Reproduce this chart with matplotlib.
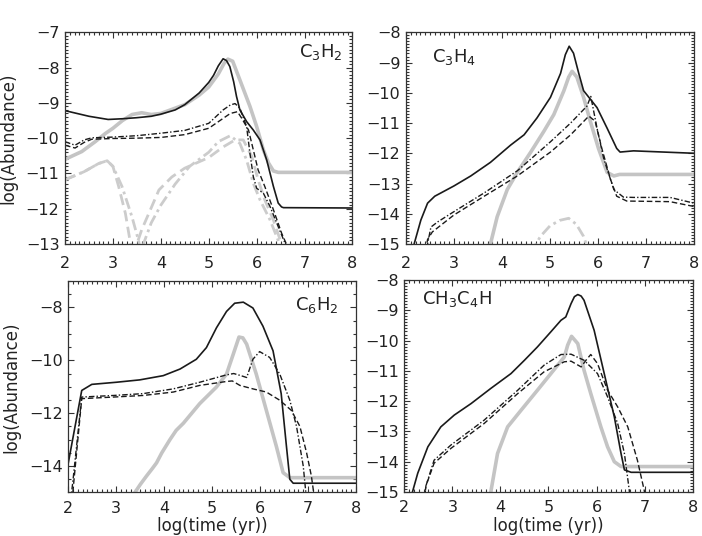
import matplotlib
matplotlib.use('Agg')
import matplotlib.pyplot as plt
from matplotlib.ticker import MultipleLocator

plt.rcParams['font.family'] = 'DejaVu Sans'
plt.rcParams['font.size'] = 11

BLACK = '#1a1a1a'
GRAY = '#c4c4c4'
LGRAY = '#cccccc'
DASH = (0, (4, 2))
DADOT = (0, (4, 1.5, 1, 1.5))

# ---- C3H2 (top left) ----
c3h2_solid_x = [2.0, 2.5, 2.9, 3.2, 3.5, 3.8, 4.0, 4.3, 4.5, 4.8, 5.0, 5.1, 5.2, 5.3, 5.37, 5.44, 5.52,
                5.58, 5.65, 5.79, 5.93, 6.07, 6.21, 6.35, 6.45, 6.52, 6.56, 8.0]
c3h2_solid_y = [-9.22, -9.38, -9.47, -9.45, -9.42, -9.38, -9.32, -9.2, -9.05, -8.72, -8.42, -8.22,
                -7.95, -7.75, -7.8, -7.97, -8.4, -8.82, -9.2, -9.53, -9.77, -10.05, -10.62, -11.37,
                -11.84, -11.95, -11.97, -11.98]
c3h2_gray_x = [2.0, 2.35, 2.63, 2.84, 3.0, 3.2, 3.4, 3.6, 3.8, 4.0, 4.2, 4.5, 4.8, 5.0, 5.2, 5.32,
               5.4, 5.5, 5.65, 5.86, 6.0, 6.14, 6.25, 6.35, 6.45, 8.0]
c3h2_gray_y = [-10.6, -10.38, -10.1, -9.87, -9.72, -9.5, -9.33, -9.28, -9.33, -9.3, -9.2, -9.05, -8.78,
               -8.55, -8.18, -7.88, -7.76, -7.82, -8.35, -9.1, -9.67, -10.33, -10.71, -10.93, -10.97,
               -10.97]
c3h2_dash_x = [2.0, 2.21, 2.4, 2.56, 3.0, 3.5, 4.0, 4.5, 5.0, 5.3, 5.45, 5.6, 5.69, 5.83, 5.93, 6.03,
               6.17, 6.35, 6.52, 6.62, 6.7]
c3h2_dash_y = [-10.2, -10.28, -10.12, -10.03, -10.01, -10.0, -9.98, -9.9, -9.72, -9.44, -9.3, -9.25,
               -9.44, -9.77, -10.33, -10.9, -11.37, -12.03, -12.69, -13.0, -13.3]
c3h2_dd_x = [2.0, 2.21, 2.4, 2.56, 3.0, 3.5, 4.0, 4.5, 5.0, 5.3, 5.45, 5.55, 5.65, 5.79, 5.86, 5.93,
             6.0, 6.14, 6.28, 6.42, 6.59, 6.65]
c3h2_dd_y = [-10.1, -10.2, -10.05, -9.99, -9.97, -9.93, -9.86, -9.78, -9.58, -9.2, -9.06, -9.02,
             -9.15, -9.67, -10.43, -11.09, -11.42, -11.56, -11.94, -12.41, -12.97, -13.2]
c3h2_gdash_x = [2.0, 2.4, 2.7, 2.88, 3.0, 3.12, 3.26, 3.36, 3.44, 3.5, 3.6, 3.75, 3.96, 4.23, 4.5,
                5.0, 5.3, 5.55, 5.72, 5.9, 6.03, 6.17, 6.35, 6.52, 6.6]
c3h2_gdash_y = [-11.18, -10.95, -10.72, -10.64, -10.8, -11.37, -12.13, -12.93, -13.4, -13.0, -12.6,
                -12.13, -11.47, -11.1, -10.85, -10.55, -10.25, -10.05, -10.05, -10.52, -11.18, -11.75,
                -12.32, -13.0, -13.3]
c3h2_gdd_x = [2.0, 2.4, 2.7, 2.88, 3.0, 3.19, 3.4, 3.54, 3.58, 3.65, 3.8, 4.0, 4.3, 4.6, 5.0, 5.2,
              5.45, 5.65, 5.79, 5.93, 6.07, 6.28, 6.45, 6.52]
c3h2_gdd_y = [-11.18, -10.95, -10.72, -10.64, -10.8, -11.37, -12.24, -12.93, -13.3, -12.95, -12.4,
              -11.9, -11.3, -10.8, -10.4, -10.1, -9.93, -10.15, -10.62, -11.28, -11.75, -12.32,
              -12.9, -13.2]

# ---- C3H4 (top right) ----
c3h4_solid_x = [2.1, 2.17, 2.31, 2.45, 2.6, 2.73, 3.0, 3.35, 3.76, 4.18, 4.46, 4.73, 5.01, 5.22, 5.32,
                5.4, 5.49, 5.6, 5.7, 5.81, 5.98, 6.19, 6.39, 6.46, 6.74, 8.0]
c3h4_solid_y = [-15.6, -15.0, -14.21, -13.65, -13.42, -13.31, -13.08, -12.75, -12.3, -11.73, -11.39,
                -10.83, -10.15, -9.36, -8.74, -8.46, -8.69, -9.36, -9.93, -10.15, -10.49, -11.17,
                -11.84, -11.96, -11.92, -12.0]
c3h4_gray_x = [3.7, 3.76, 3.9, 4.11, 4.32, 4.6, 4.87, 5.08, 5.29, 5.39, 5.46, 5.56, 5.7, 5.84, 6.01,
               6.19, 6.33, 6.45, 8.0]
c3h4_gray_y = [-15.5, -15.0, -14.1, -13.2, -12.63, -11.96, -11.28, -10.72, -9.93, -9.48, -9.29, -9.48,
               -10.15, -10.94, -11.84, -12.63, -12.75, -12.7, -12.7]
c3h4_dash_x = [2.38, 2.45, 2.55, 3.0, 3.63, 4.32, 5.01, 5.43, 5.81, 5.94, 6.08, 6.26, 6.39, 6.6, 7.5, 8.0]
c3h4_dash_y = [-15.5, -14.85, -14.6, -14.04, -13.42, -12.75, -11.96, -11.39, -10.77, -10.94, -11.84,
               -12.86, -13.42, -13.58, -13.6, -13.76]
c3h4_dd_x = [2.4, 2.45, 2.52, 2.66, 3.0, 3.63, 4.32, 5.01, 5.43, 5.77, 5.85, 5.98, 6.12, 6.33, 6.53,
             6.74, 7.5, 8.0]
c3h4_dd_y = [-15.5, -15.0, -14.44, -14.27, -13.93, -13.31, -12.58, -11.62, -11.0, -10.44, -10.12,
             -11.17, -12.18, -13.2, -13.45, -13.46, -13.46, -13.65]
c3h4_gdd_x = [4.6, 4.8, 5.0, 5.2, 5.39, 5.55, 5.7, 5.82]
c3h4_gdd_y = [-15.3, -14.75, -14.4, -14.22, -14.15, -14.35, -14.75, -15.3]

# ---- C6H2 (bottom left) ----
c6h2_solid_x = [2.0, 2.28, 2.49, 3.0, 3.49, 3.98, 4.33, 4.67, 4.88, 5.09, 5.3, 5.47, 5.65, 5.85, 6.06,
                6.27, 6.44, 6.55, 6.62, 6.69, 8.0]
c6h2_solid_y = [-13.88, -11.14, -10.91, -10.83, -10.74, -10.58, -10.33, -9.96, -9.52, -8.77, -8.15,
                -7.84, -7.8, -8.02, -8.71, -9.64, -11.26, -13.26, -14.5, -14.65, -14.65]
c6h2_gray_x = [3.3, 3.39, 3.5, 3.63, 3.75, 3.84, 3.95, 4.12, 4.25, 4.4, 4.74, 5.09, 5.3, 5.44, 5.56,
               5.64, 5.72, 5.92, 6.13, 6.34, 6.48, 6.62, 8.0]
c6h2_gray_y = [-15.4, -15.0, -14.7, -14.38, -14.1, -13.88, -13.5, -13.0, -12.65, -12.38, -11.64,
               -11.01, -10.52, -9.77, -9.12, -9.15, -9.39, -10.52, -11.89, -13.26, -14.25, -14.44,
               -14.44]
c6h2_dash_x = [2.08, 2.12, 2.28, 2.94, 3.56, 4.19, 4.74, 5.3, 5.42, 5.58, 5.85, 6.13, 6.41, 6.65, 6.83,
               6.97, 7.07, 7.14]
c6h2_dash_y = [-15.3, -14.5, -11.45, -11.39, -11.33, -11.2, -10.95, -10.8, -10.78, -10.95, -11.08,
               -11.2, -11.51, -11.89, -12.5, -13.5, -14.38, -15.3]
c6h2_dd_x = [2.05, 2.1, 2.28, 2.94, 3.56, 4.19, 4.74, 5.3, 5.45, 5.6, 5.72, 5.85, 5.99, 6.2, 6.41, 6.62,
             6.76, 6.9, 6.97]
c6h2_dd_y = [-15.3, -14.5, -11.39, -11.33, -11.26, -11.08, -10.83, -10.55, -10.5, -10.58, -10.65, -9.96,
             -9.67, -9.89, -10.52, -11.51, -12.5, -14.0, -15.3]

# ---- CH3C4H (bottom right) ----
ch3c4h_solid_x = [2.1, 2.17, 2.28, 2.49, 2.76, 3.04, 3.39, 3.8, 4.22, 4.5, 4.77, 5.05, 5.26, 5.36, 5.47,
                  5.54, 5.61, 5.68, 5.74, 5.95, 6.16, 6.37, 6.51, 6.58, 6.72, 8.0]
ch3c4h_solid_y = [-15.6, -15.0, -14.38, -13.51, -12.85, -12.46, -12.08, -11.58, -11.09, -10.65, -10.21,
                  -9.71, -9.33, -9.22, -8.78, -8.55, -8.48, -8.53, -8.67, -9.66, -11.09, -12.52,
                  -13.73, -14.27, -14.35, -14.35]
ch3c4h_gray_x = [3.72, 3.8, 3.94, 4.15, 4.43, 4.77, 5.05, 5.33, 5.4, 5.48, 5.61, 5.74, 5.88, 6.09, 6.23,
                 6.37, 6.51, 8.0]
ch3c4h_gray_y = [-15.5, -15.0, -13.73, -12.85, -12.3, -11.64, -11.09, -10.54, -10.15, -9.86, -10.1,
                 -10.98, -11.75, -12.85, -13.51, -14.0, -14.16, -14.16]
ch3c4h_dash_x = [2.4, 2.45, 2.62, 2.97, 3.66, 4.36, 4.91, 5.33, 5.47, 5.68, 5.78, 5.88, 6.02, 6.23, 6.44,
                 6.65, 6.85, 6.99, 7.03]
ch3c4h_dash_y = [-15.5, -14.8, -14.05, -13.56, -12.74, -11.75, -11.03, -10.7, -10.68, -10.87, -10.65,
                 -10.46, -10.76, -11.64, -12.19, -12.85, -13.95, -14.93, -15.3]
ch3c4h_dd_x = [2.4, 2.45, 2.62, 2.97, 3.66, 4.36, 4.91, 5.26, 5.47, 5.74, 6.02, 6.23, 6.44, 6.58, 6.68,
               6.7]
ch3c4h_dd_y = [-15.5, -14.8, -13.95, -13.45, -12.63, -11.64, -10.81, -10.46, -10.45, -10.65, -11.09,
               -11.86, -12.74, -13.73, -14.93, -15.3]

panels = [
    dict(rect=[0.0926, 0.5448, 0.4095, 0.3949], ylim=(-13, -7), ystep=1, yminor=0.1,
         label='C$_3$H$_2$', lx=0.965, ly=0.905, ha='right', xpad=9,
         black=[(c3h2_solid_x, c3h2_solid_y, '-'), (c3h2_dash_x, c3h2_dash_y, DASH),
                (c3h2_dd_x, c3h2_dd_y, DADOT)],
         gray=[(c3h2_gray_x, c3h2_gray_y, '-')],
         lgray=[(c3h2_gdash_x, c3h2_gdash_y, DASH), (c3h2_gdd_x, c3h2_gdd_y, DADOT)]),
    dict(rect=[0.5783, 0.5448, 0.4103, 0.3949], ylim=(-15, -8), ystep=1, yminor=0.1,
         label='C$_3$H$_4$', lx=0.09, ly=0.885, ha='left', xpad=9,
         black=[(c3h4_solid_x, c3h4_solid_y, '-'), (c3h4_dash_x, c3h4_dash_y, DASH),
                (c3h4_dd_x, c3h4_dd_y, DADOT)],
         gray=[(c3h4_gray_x, c3h4_gray_y, '-')],
         lgray=[(c3h4_gdd_x, c3h4_gdd_y, DADOT)]),
    dict(rect=[0.0973, 0.0812, 0.4098, 0.3945], ylim=(-15, -7), ystep=2, yminor=0.5,
         label='C$_6$H$_2$', lx=0.94, ly=0.885, ha='right', xpad=6,
         black=[(c6h2_solid_x, c6h2_solid_y, '-'), (c6h2_dash_x, c6h2_dash_y, DASH),
                (c6h2_dd_x, c6h2_dd_y, DADOT)],
         gray=[(c6h2_gray_x, c6h2_gray_y, '-')], lgray=[]),
    dict(rect=[0.5759, 0.0821, 0.4108, 0.3955], ylim=(-15, -8), ystep=1, yminor=0.1,
         label='CH$_3$C$_4$H', lx=0.063, ly=0.91, ha='left', xpad=6,
         black=[(ch3c4h_solid_x, ch3c4h_solid_y, '-'), (ch3c4h_dash_x, ch3c4h_dash_y, DASH),
                (ch3c4h_dd_x, ch3c4h_dd_y, DADOT)],
         gray=[(ch3c4h_gray_x, ch3c4h_gray_y, '-')], lgray=[]),
]

fig = plt.figure(figsize=(7.02, 5.36), dpi=100)
axes = []
for p in panels:
    ax = fig.add_axes(p['rect'])
    for x, y, ls in p['lgray']:
        ax.plot(x, y, color=LGRAY, lw=2.0, linestyle=ls)
    for x, y, ls in p['gray']:
        ax.plot(x, y, color=GRAY, lw=2.6, linestyle=ls)
    for x, y, ls in p['black']:
        ax.plot(x, y, color=BLACK, lw=1.0 if ls != '-' else 1.2, linestyle=ls)
    ax.set_xlim(2, 8)
    ax.set_ylim(*p['ylim'])
    ax.xaxis.set_major_locator(MultipleLocator(1))
    ax.xaxis.set_minor_locator(MultipleLocator(0.1))
    ax.yaxis.set_major_locator(MultipleLocator(p['ystep']))
    ax.yaxis.set_minor_locator(MultipleLocator(p['yminor']))
    ax.tick_params(which='both', direction='in', top=True, right=True, width=0.8, colors='#333333',
                   labelcolor='#222222', labelsize=11.5)
    ax.tick_params(which='major', length=4.5)
    ax.tick_params(which='minor', length=2)
    ax.tick_params(axis='x', pad=p['xpad'])
    ax.tick_params(axis='y', pad=4)
    for s in ax.spines.values():
        s.set_linewidth(0.9)
        s.set_color('#333333')
    ax.text(p['lx'], p['ly'], p['label'], transform=ax.transAxes, ha=p['ha'], va='center',
            fontsize=13, color='#222222')
    axes.append(ax)

axes[0].set_ylabel('log(Abundance)', fontsize=12, color='#222222', labelpad=6)
axes[2].set_ylabel('log(Abundance)', fontsize=12, color='#222222', labelpad=6)
for ax in axes[2:]:
    pos = ax.get_position()
    fig.text((pos.x0 + pos.x1) / 2, 0.001, 'log(time (yr))', ha='center', va='bottom',
             fontsize=12, color='#222222')

fig.savefig('out.png', dpi=100)
